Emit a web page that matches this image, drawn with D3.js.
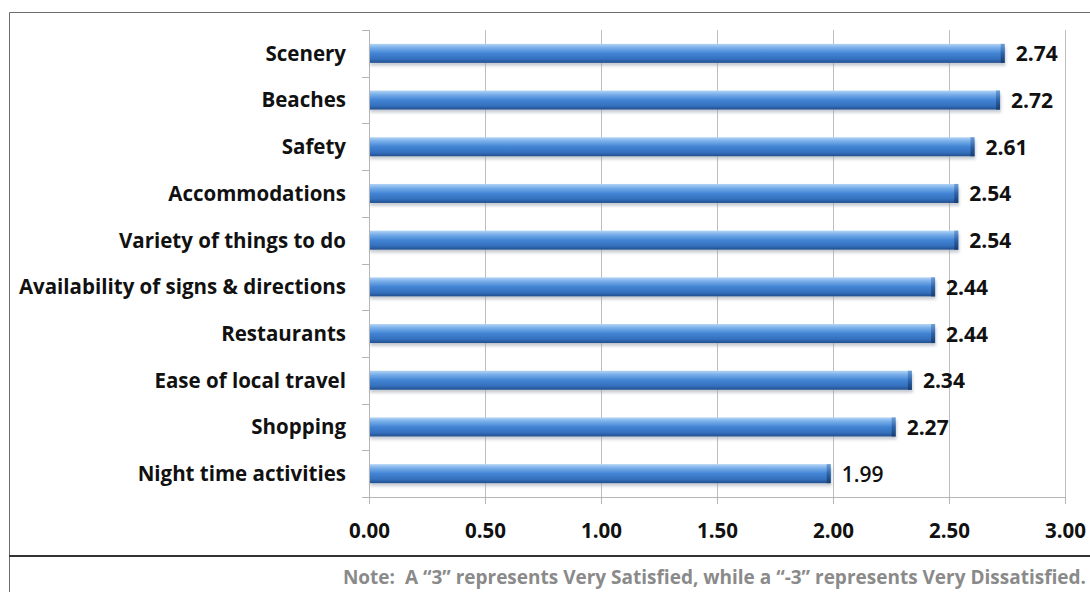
<!DOCTYPE html>
<html>
<head>
<meta charset="utf-8">
<script src="https://cdn.jsdelivr.net/npm/d3@7"></script>
<style>
  html, body { margin: 0; padding: 0; background: #fff; }
  svg { display: block; }
  text { font-family: "Open Sans", Lato, sans-serif; }
</style>
</head>
<body>
<svg id="chart" width="1090" height="592"></svg>
<script>
// Satisfaction ratings, top to bottom
const categories = [
  "Scenery", "Beaches", "Safety", "Accommodations", "Variety of things to do",
  "Availability of signs & directions", "Restaurants", "Ease of local travel",
  "Shopping", "Night time activities"
];
const scores = [2.74, 2.72, 2.61, 2.54, 2.54, 2.44, 2.44, 2.34, 2.27, 1.99];
const xTicks = [0, 0.5, 1, 1.5, 2, 2.5, 3];
const noteText = "Note:\u00a0 A \u201c3\u201d represents Very Satisfied, while a \u201c-3\u201d represents Very Dissatisfied.";

const svg = d3.select("#chart");
const W = 1090, H = 592;
const plot = { left: 369, right: 1065, top: 30, bottom: 497 };

const x = d3.scaleLinear().domain([0, 3]).range([plot.left, plot.right]);

// Bar shading
const defs = svg.append("defs");
const grad = defs.append("linearGradient").attr("id", "barGrad").attr("x1", 0).attr("y1", 0).attr("x2", 0).attr("y2", 1);
[[0, "#b3d4f5"], [0.2, "#79afea"], [0.5, "#4284d4"], [0.8, "#3470bd"], [1, "#214f8e"]]
  .forEach(([o, c]) => grad.append("stop").attr("offset", o).attr("stop-color", c));
const capGrad = defs.append("linearGradient").attr("id", "capGrad").attr("x1", 0).attr("y1", 0).attr("x2", 0).attr("y2", 1);
[[0, "#6f9fd8"], [0.5, "#2d63a8"], [1, "#173d70"]]
  .forEach(([o, c]) => capGrad.append("stop").attr("offset", o).attr("stop-color", c));
const blur = defs.append("filter").attr("id", "shadow").attr("x", "-5%").attr("y", "-50%").attr("width", "110%").attr("height", "200%");
blur.append("feGaussianBlur").attr("stdDeviation", 1.6);

// Outer frame and note separator
svg.append("path").attr("d", `M9.5,${H} V12.5 H${W}`).attr("fill", "none").attr("stroke", "#6d6d6d").attr("stroke-width", 1);
svg.append("line").attr("x1", 9).attr("x2", W).attr("y1", 556).attr("y2", 556)
  .attr("stroke", "#333").attr("stroke-width", 2);

// Vertical gridlines
svg.append("g").selectAll("line").data(xTicks.slice(1)).join("line")
  .attr("x1", d => Math.round(x(d)) + 0.5).attr("x2", d => Math.round(x(d)) + 0.5)
  .attr("y1", plot.top).attr("y2", plot.bottom)
  .attr("stroke", "#bdbdbd").attr("stroke-width", 1);

// Bottom axis
const xAxis = svg.append("g").attr("transform", `translate(0,${plot.bottom})`)
  .call(d3.axisBottom(x).tickValues(xTicks).tickFormat(d3.format(".2f")).tickSizeInner(7).tickSizeOuter(0).tickPadding(19));
xAxis.select(".domain").attr("stroke", "#b5b5b5");
xAxis.selectAll(".tick line").attr("stroke", "#b5b5b5");
xAxis.selectAll(".tick text").attr("fill", "#111").attr("font-size", 20.5).attr("font-weight", 700)
  .attr("font-family", "'Open Sans', sans-serif");

// Left axis with category boundary ticks
const yAxisG = svg.append("g");
yAxisG.append("line").attr("x1", plot.left + 0.5).attr("x2", plot.left + 0.5)
  .attr("y1", plot.top).attr("y2", plot.bottom).attr("stroke", "#b5b5b5");
const bounds = d3.range(categories.length + 1).map(i => plot.top + i * (plot.bottom - plot.top) / categories.length);
yAxisG.selectAll(".bt").data(bounds).join("line").attr("class", "bt")
  .attr("x1", plot.left - 7).attr("x2", plot.left)
  .attr("y1", d => Math.round(d) + 0.5).attr("y2", d => Math.round(d) + 0.5)
  .attr("stroke", "#b5b5b5");

const bandCenter = (i) => plot.top + (i + 0.5) * (plot.bottom - plot.top) / categories.length;
const barH = 19;

// Category labels
svg.append("g").selectAll("text").data(categories).join("text")
  .attr("x", plot.left - 23).attr("y", (d, i) => bandCenter(i))
  .attr("dy", "0.36em").attr("text-anchor", "end")
  .attr("font-size", 20.5).attr("font-weight", 700).attr("fill", "#111").text(d => d);

// Bars
const bars = svg.append("g").selectAll("g").data(scores).join("g");
bars.append("rect").attr("x", plot.left + 1).attr("y", (d, i) => bandCenter(i) - barH / 2 + 3)
  .attr("width", d => x(d) - plot.left).attr("height", barH)
  .attr("fill", "#9aa3ad").attr("opacity", 0.55).attr("filter", "url(#shadow)");
bars.append("rect").attr("x", plot.left + 1).attr("y", (d, i) => bandCenter(i) - barH / 2)
  .attr("width", d => x(d) - plot.left - 1).attr("height", barH)
  .attr("fill", "url(#barGrad)");
bars.append("rect").attr("x", d => x(d) - 4).attr("y", (d, i) => bandCenter(i) - barH / 2)
  .attr("width", 4).attr("height", barH).attr("fill", "url(#capGrad)");

// Value labels (the lowest score is set in a lighter weight)
svg.append("g").selectAll("text").data(scores).join("text")
  .attr("x", d => x(d) + 11).attr("y", (d, i) => bandCenter(i))
  .attr("dy", "0.38em").attr("font-size", 21)
  .attr("font-weight", (d, i) => i === scores.length - 1 ? 600 : 700).attr("fill", "#111")
  .text(d => d.toFixed(2));

// Note
svg.append("text").attr("x", 1086).attr("y", 584).attr("text-anchor", "end")
  .attr("font-size", 19).attr("font-weight", 700).attr("fill", "#8a8a8a").text(noteText);
</script>
</body>
</html>
